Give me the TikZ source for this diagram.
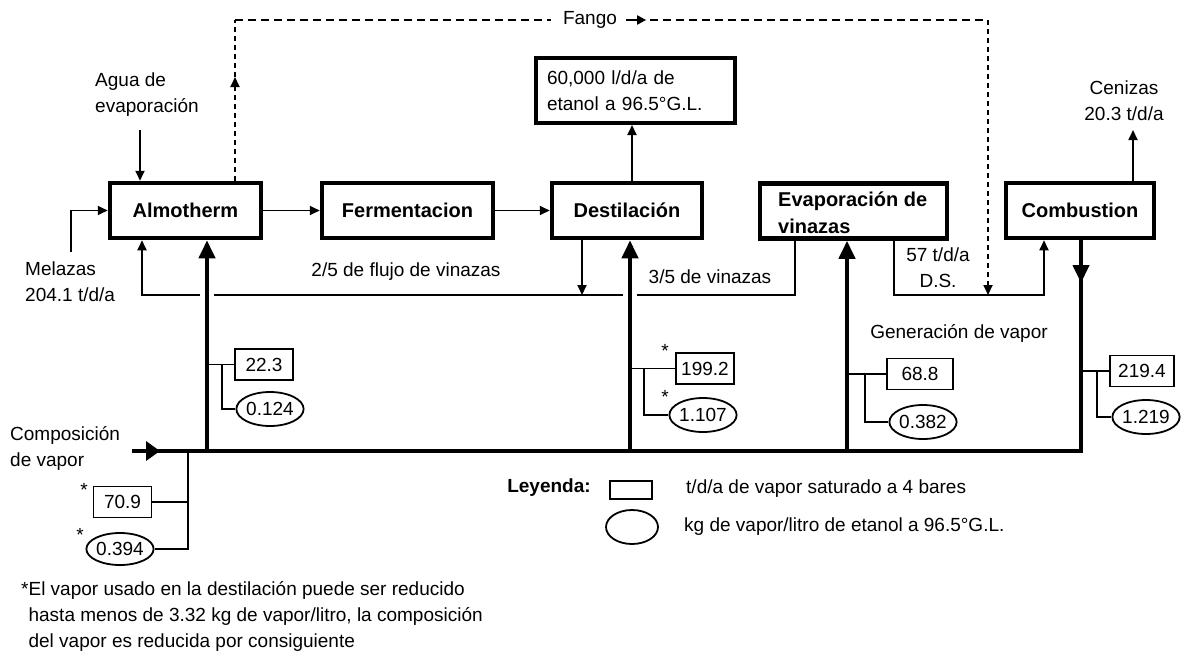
\documentclass[tikz,border=0pt]{standalone}
\usepackage{fontspec}
\setmainfont{Liberation Sans}
\usetikzlibrary{arrows.meta,shapes.geometric}
\begin{document}
\begin{tikzpicture}[x=1pt,y=-1pt,
  every node/.style={font=\fontsize{19}{26}\selectfont, inner sep=0pt},
  procfont/.style={font=\fontsize{20}{27}\selectfont\bfseries},
  proc/.style={draw, line width=4.5pt, procfont, minimum height=55pt},
  valbox/.style={draw, line width=1.8pt, minimum width=58pt, minimum height=31pt},
  valell/.style={draw, ellipse, line width=1.8pt, minimum width=64pt, minimum height=34pt},
  thinl/.style={line width=1.8pt},
  thinarr/.style={thinl, -{Triangle[length=10pt,width=9pt]}},
  thickl/.style={line width=4pt},
  thickarr/.style={thickl, -{Triangle[length=18pt,width=16pt]}},
  dashh/.style={line width=1.8pt, dash pattern=on 8pt off 5pt},
  dashv/.style={line width=1.8pt, dash pattern=on 5pt off 4pt},
  star/.style={font=\fontsize{19}{19}\selectfont}
]
\useasboundingbox (0,0) rectangle (1185,656);
\fill[white] (0,0) rectangle (1185,656);

% process boxes
\node[proc, minimum width=151pt] (alm) at (185.5,210.5) {Almotherm};
\node[proc, minimum width=171pt] (fer) at (407.5,210.5) {Fermentacion};
\node[proc, minimum width=150pt] (des) at (627,210.5) {Destilación};
\node[proc, minimum width=187pt] (eva) at (853.5,211) {};
\node[procfont, align=left, anchor=west] (evat) at (778,212.5) {Evaporación de\\vinazas};
\node[proc, minimum width=148pt] (com) at (1080,210.5) {Combustion};
\node[draw, line width=4pt, minimum height=65pt, text width=177pt, inner xsep=11pt, align=left] (eta) at (635.5,90.5) {60,000 l/d/a de\\etanol a 96.5°G.L.};

% text labels
\node[align=left, anchor=west] (agua) at (95,94.5) {Agua de\\evaporación};
\node[align=left, anchor=west] (mel) at (25,281.5) {Melazas\\204.1 t/d/a};
\node (flujo) at (406,272) {2/5 de flujo de vinazas};
\node (tres) at (710,277) {3/5 de vinazas};
\node[align=center] (ds) at (938,268) {57 t/d/a\\D.S.};
\node[align=center] (cen) at (1124,101) {Cenizas\\20.3 t/d/a};
\node (gen) at (959,333) {Generación de vapor};
\node[align=left, anchor=west] (comp) at (10,448.5) {Composición\\de vapor};
\node[font=\fontsize{19}{26}\selectfont\bfseries] (ley) at (549,488) {Leyenda:};
\node[anchor=west] (l1) at (686,489) {t/d/a de vapor saturado a 4 bares};
\node[anchor=west] (l2) at (684,527) {kg de vapor/litro de etanol a 96.5°G.L.};
\node[align=left, anchor=west] (foot) at (21,616.5) {*El vapor usado en la destilación puede ser reducido\\\hphantom{*}hasta menos de 3.32 kg de vapor/litro, la composición\\\hphantom{*}del vapor es reducida por consiguiente};
\node (fango) at (590,20) {Fango};

% legend symbols
\node[draw, line width=1.8pt, minimum width=42pt, minimum height=18pt] (lr) at (631,490) {};
\node[draw, ellipse, line width=1.8pt, minimum width=52pt, minimum height=34pt] (le) at (632,527) {};

% value boxes
\node[valbox] (v1) at (264,364.5) {22.3};
\node[valell] (e1) at (270,409) {0.124};
\node[valbox] (v2) at (705,368.5) {199.2};
\node[valell] (e2) at (703,415) {1.107};
\node[valbox, minimum width=66pt] (v3) at (920,374) {68.8};
\node[valell] (e3) at (923,422) {0.382};
\node[valbox, minimum width=64pt] (v4) at (1142,371) {219.4};
\node[valell] (e4) at (1146,417) {1.219};
\node[valbox] (v0) at (122.5,502) {70.9};
\node[valell, minimum width=60pt, minimum height=32pt] (e0) at (120,549) {0.394};
\node[star] (s0a) at (84,490) {*};
\node[star] (s0b) at (80,535) {*};
\node[star] (s2a) at (665,351) {*};
\node[star] (s2b) at (665,397) {*};

% coordinates
\coordinate (aguaA) at (140,130);
\coordinate (melA) at (71,252);
\coordinate (etaA) at (632,0);
\coordinate (cenA) at (1133,130);
\coordinate (r1) at (795,295);
\coordinate (r2) at (142,295);
\coordinate (d1) at (582,295);
\coordinate (q1) at (894,295);
\coordinate (q2) at (1044,295);
\coordinate (f0) at (235,77);
\coordinate (f1) at (235,20);
\coordinate (f2) at (988,20);
\coordinate (f3) at (988,295);
\coordinate (t1) at (207,451);
\coordinate (t2) at (630,451);
\coordinate (t3) at (847,451);
\coordinate (t4) at (1081,451);
\coordinate (h0) at (132,451);
\coordinate (k0) at (188,0);
\coordinate (k1) at (222,0);
\coordinate (k2) at (644,0);
\coordinate (k3) at (865,0);
\coordinate (k4) at (1097,0);

% thin flows
\draw[thinarr] (aguaA) -- (aguaA |- alm.north);
\draw[thinarr] (melA) |- (alm.west);
\draw[thinarr] (alm.east) -- (fer.west);
\draw[thinarr] (fer.east) -- (des.west);
\draw[thinarr] (etaA |- des.north) -- (etaA |- eta.south);
\draw[thinarr] (cenA |- com.north) -- (cenA);
\draw[thinarr] (r1 |- eva.south) -- (r1) -- (r2) -- (r2 |- alm.south);
\draw[thinarr] (d1 |- des.south) -- (d1);
\draw[thinarr] (q1 |- eva.south) -- (q1) -- (q2) -- (q2 |- com.south);

% dashed fango
\draw[dashv, -{Triangle[length=10pt,width=9pt]}] (f1 |- alm.north) -- (f0);
\draw[dashv] (f0) -- (f1);
\draw[dashh] (f1) -- ([xshift=-12pt]fango.west);
\draw[line width=2pt, -{Triangle[length=9pt,width=9pt]}] ([xshift=9pt]fango.east) -- ([xshift=29pt]fango.east);
\draw[dashh] ([xshift=33pt]fango.east) -- (f2);
\draw[dashv, -{Triangle[length=10pt,width=9pt]}] (f2) -- (f3);

% gaps in the recycle line
\draw[white, line width=4pt] (200,295) -- (214,295);
\draw[white, line width=4pt] (623,295) -- (637,295);

% thick steam lines
\draw[thickarr] (t1) -- (t1 |- alm.south);
\draw[thickarr] (t2) -- (t2 |- des.south);
\draw[thickarr] (t3) -- (t3 |- eva.south);
\draw[thickl, -{Triangle[length=14pt,width=19pt]}] (h0) -- (160,451);
\draw[thickl] (155,451) -- (t4) -- (t4 |- com.south);
\draw[thickarr] (t4 |- com.south) -- (1081,283);

% value connectors
\draw[thinl] (t1 |- v1.west) -- (v1.west);
\draw[thinl] (k1 |- v1.west) |- (e1.west);
\draw[thinl] (t2 |- v2.west) -- (v2.west);
\draw[thinl] (k2 |- v2.west) |- (e2.west);
\draw[thinl] (t3 |- v3.west) -- (v3.west);
\draw[thinl] (k3 |- v3.west) |- (e3.west);
\draw[thinl] (t4 |- v4.west) -- (v4.west);
\draw[thinl] (k4 |- v4.west) |- (e4.west);
\draw[thinl] (k0 |- h0) -- (k0 |- e0.east) -- (e0.east);
\draw[thinl] (v0.east) -- (k0 |- v0.east);
\end{tikzpicture}
\end{document}
